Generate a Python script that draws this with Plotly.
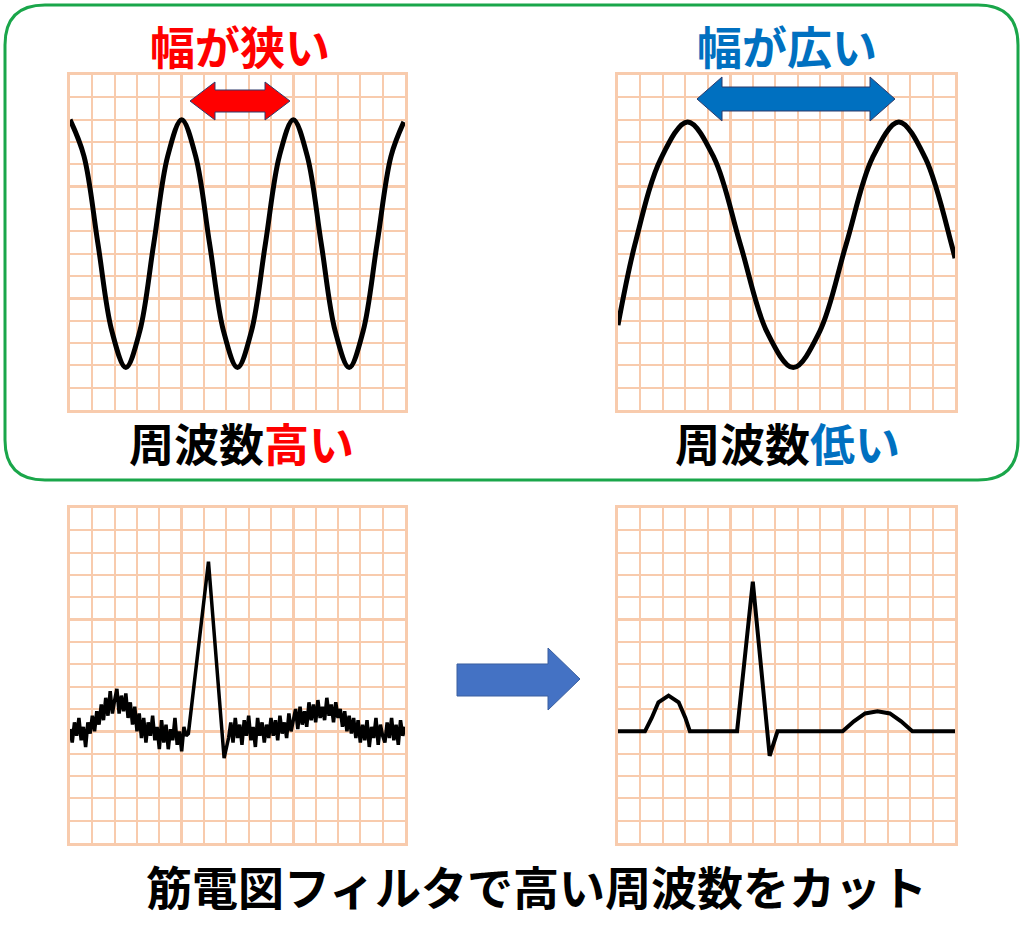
import numpy as np
import plotly.graph_objects as go

W, H = 1024, 936
# grid units 0..15 on both axes
hi_x = [0, 0.625, 1.25, 1.875, 2.5, 3.125, 3.75, 4.375, 5.0, 5.625, 6.25, 6.875, 7.5, 8.125,
        8.75, 9.375, 10.0, 10.625, 11.25, 11.875, 12.5, 13.125, 13.75, 14.375, 14.95]
hi_y = [13.0, 11.37, 7.45, 3.53, 1.9, 3.53, 7.45, 11.37, 13.0, 11.37, 7.45, 3.53, 1.9, 3.53,
        7.45, 11.37, 13.0, 11.37, 7.45, 3.53, 1.9, 3.53, 7.45, 11.37, 12.9]
lo_x = [0, 0.75, 1.925, 3.1, 4.275, 5.45, 6.625, 7.8, 8.975, 10.15, 11.325, 12.5, 13.675, 14.85, 15.0]
lo_y = [3.8, 7.4, 11.29, 12.9, 11.29, 7.4, 3.51, 1.9, 3.51, 7.4, 11.29, 12.9, 11.29, 7.4, 6.8]
clean_x = [0, 1.2, 1.5, 1.8, 2.25, 2.7, 3.0, 3.2, 5.3, 6.0, 6.75, 7.1,
           10.0, 10.5, 11.0, 11.55, 12.1, 12.6, 13.1, 15]
clean_y = [5.0, 5.0, 5.6, 6.3, 6.6, 6.3, 5.6, 5.0, 5.0, 11.7, 3.9, 5.0,
           5.0, 5.45, 5.8, 5.9, 5.8, 5.45, 5.0, 5.0]
noisy_a = [5.1,4.5,5.4,4.8,5.6,4.6,5.2,4.3,5.4,4.9,5.7,
           5.0,5.9,5.3,6.2,5.5,6.5,5.7,6.8,5.8,6.4,
           6.9,5.8,6.6,5.9,6.7,5.6,6.3,5.3,6.1,5.0,
           5.8,4.7,5.6,4.5,5.4,4.8,5.7,4.6,5.2,4.2,
           5.5,4.5,5.3,4.2,5.1,4.6,5.6,4.4,5.0,4.1,5.2,4.8]
qrs_x = [5.3, 6.2, 6.9, 7.1]
qrs_y = [4.9, 12.6, 3.8, 4.7]
noisy_b = [5.4,4.5,5.6,4.7,5.3,4.4,5.5,4.8,5.7,
           4.6,5.2,4.3,5.6,4.8,5.4,4.5,5.3,4.7,5.6,
           4.8,5.5,4.6,5.7,4.9,5.4,4.7,5.8,5.0,5.6,
           6.0,5.1,6.1,5.3,5.9,5.2,6.3,5.5,6.2,5.4,
           6.4,5.6,6.1,5.5,6.5,5.7,6.2,5.4,6.3,5.6,
           6.0,5.2,5.9,5.0,5.7,4.9,5.6,4.7,5.5,4.5,
           5.3,4.6,5.5,4.3,5.2,4.7,5.6,4.4,5.3,4.8,
           4.5,5.4,4.7,5.6,4.6,5.3,4.4,5.5,4.8,5.2]
noisy_x = list(np.round(np.arange(len(noisy_a)) * 0.1, 2)) + qrs_x + \
          list(np.round(7.2 + np.arange(len(noisy_b)) * 0.1, 2))
noisy_y = noisy_a + qrs_y + noisy_b

def px(x): return x / W
def py(y): return 1 - y / H

panels = [(70, 405, 75, 410), (618, 955, 75, 410), (70, 405, 508, 843), (618, 955, 508, 843)]
fig = go.Figure()
grid = "#f8cbad"
for i, (x0, x1, y0, y1) in enumerate(panels):
    n = "" if i == 0 else str(i + 1)
    ax = dict(range=[0, 15], dtick=5, showgrid=True, gridcolor=grid,
              gridwidth=3, showticklabels=False, ticks="", zeroline=False, showline=True,
              linecolor=grid, linewidth=3, mirror=True, fixedrange=True,
              minor=dict(dtick=1, showgrid=True, gridcolor=grid, gridwidth=1.5))
    fig.layout["xaxis" + n] = dict(ax, domain=[px(x0), px(x1)], anchor="y" + n)
    fig.layout["yaxis" + n] = dict(ax, domain=[py(y1), py(y0)], anchor="x" + n)

line = dict(color="black", width=5, shape="spline", smoothing=1.0)
fig.add_trace(go.Scatter(x=hi_x, y=hi_y, mode="lines", line=line, xaxis="x", yaxis="y"))
fig.add_trace(go.Scatter(x=lo_x, y=lo_y, mode="lines", line=line, xaxis="x2", yaxis="y2"))
fig.add_trace(go.Scatter(x=noisy_x, y=noisy_y, mode="lines", line=dict(color="black", width=3.5),
                         xaxis="x3", yaxis="y3"))
fig.add_trace(go.Scatter(x=clean_x, y=clean_y, mode="lines",
                         line=dict(color="black", width=4), xaxis="x4", yaxis="y4"))

def path(pts):
    return "M " + " L ".join(f"{px(a):.5f},{py(b):.5f}" for a, b in pts) + " Z"

def darrow(x0, x1, yc, hh, sh, hw):
    return path([(x0, yc), (x0 + hw, yc - hh), (x0 + hw, yc - sh), (x1 - hw, yc - sh), (x1 - hw, yc - hh),
                 (x1, yc), (x1 - hw, yc + hh), (x1 - hw, yc + sh), (x0 + hw, yc + sh), (x0 + hw, yc + hh)])

shapes = []
r = 40; L, R, T, B = 5, 1018, 5, 480
rb = (f"M {px(L+r)},{py(T)} L {px(R-r)},{py(T)} Q {px(R)},{py(T)} {px(R)},{py(T+r)} "
      f"L {px(R)},{py(B-r)} Q {px(R)},{py(B)} {px(R-r)},{py(B)} L {px(L+r)},{py(B)} "
      f"Q {px(L)},{py(B)} {px(L)},{py(B-r)} L {px(L)},{py(T+r)} Q {px(L)},{py(T)} {px(L+r)},{py(T)} Z")
shapes.append(dict(type="path", xref="paper", yref="paper", path=rb, line=dict(color="#1aa64a", width=3)))
shapes.append(dict(type="path", xref="paper", yref="paper", path=darrow(190, 290, 101, 19, 11, 25),
                   fillcolor="#ff0000", line=dict(color="#2f3b6b", width=1)))
shapes.append(dict(type="path", xref="paper", yref="paper", path=darrow(697, 895, 99, 22, 12, 25),
                   fillcolor="#0070c0", line=dict(color="#2f3b6b", width=1)))
shapes.append(dict(type="path", xref="paper", yref="paper",
                   path=path([(457, 664), (548, 664), (548, 648), (580, 679), (548, 710), (548, 696), (457, 696)]),
                   fillcolor="#4472c4", line=dict(color="#3a5f9f", width=1)))
fig.update_layout(shapes=shapes)

F = "Noto Sans CJK JP"
def txt(x, y, s, size=45):
    fig.add_annotation(x=px(x), y=py(y), xref="paper", yref="paper", text=s, showarrow=False,
                       font=dict(family=F, size=size, color="black"), xanchor="center", yanchor="middle")
txt(240, 45, "<b><span style='color:#ff0000'>幅が狭い</span></b>")
txt(787, 45, "<b><span style='color:#0070c0'>幅が広い</span></b>")
txt(241, 442, "<b>周波数<span style='color:#ff0000'>高い</span></b>")
txt(787, 442, "<b>周波数<span style='color:#0070c0'>低い</span></b>")
txt(536, 885, "<b>筋電図フィルタで高い周波数をカット</b>", 46)

fig.update_layout(width=W, height=H, margin=dict(l=0, r=0, t=0, b=0), showlegend=False,
                  paper_bgcolor="white", plot_bgcolor="white")
fig.write_html("out.html", config={"displayModeBar": False},
               post_script="document.body.style.margin='0';document.body.style.overflow='hidden';")
